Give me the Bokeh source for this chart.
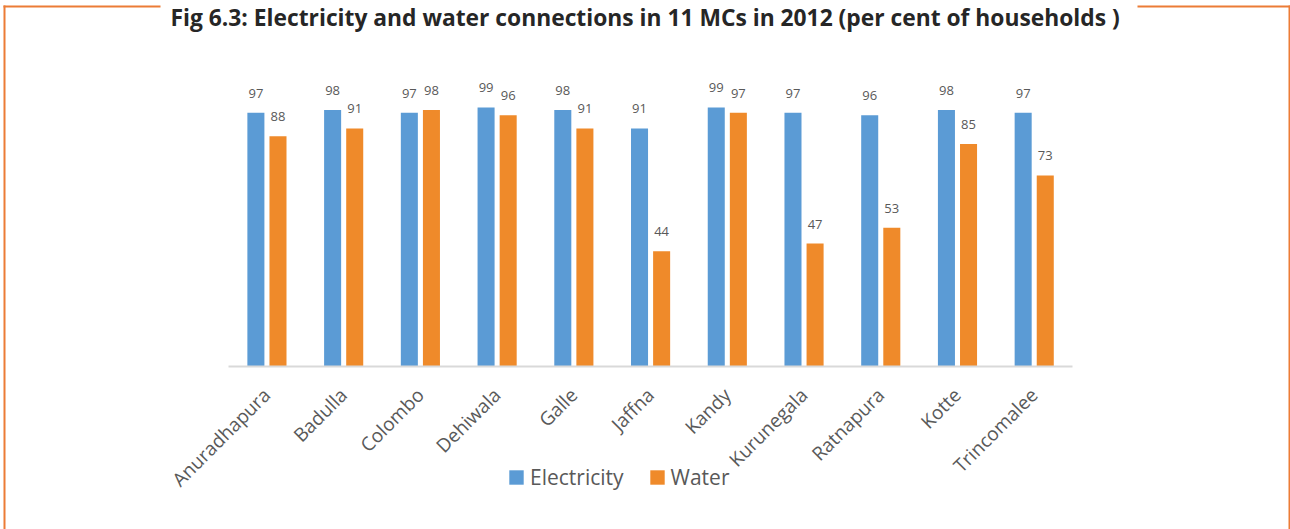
import math
from bokeh.plotting import figure
from bokeh.models import (Range1d, ColumnDataSource, LabelSet, Label, LinearAxis,
                          FixedTicker, BoxAnnotation, Legend, LegendItem)
from bokeh.transform import dodge
from bokeh.core.properties import value
from bokeh.embed import file_html
from bokeh.resources import INLINE

# ---- data ----
cities = ["Anuradhapura", "Badulla", "Colombo", "Dehiwala", "Galle", "Jaffna",
          "Kandy", "Kurunegala", "Ratnapura", "Kotte", "Trincomalee"]
electricity = [97, 98, 97, 99, 98, 91, 99, 97, 96, 98, 97]
water = [88, 91, 98, 96, 91, 44, 97, 47, 53, 85, 73]
series_names = ["Electricity", "Water"]
title_text = "Fig 6.3: Electricity and water connections in 11 MCs in 2012 (per cent of households )"

BLUE = "#5B9BD5"
ORANGE = "#EF8A2A"
FRAME_ORANGE = "#EC7C36"
GREY = "#595959"

W, H = 1290, 529
# plot-area geometry (pixels)
AX_LEFT, AX_RIGHT, AX_BASE = 228, 1072, 366
PX_PER_UNIT_Y = 314 / 120.0
n = len(cities)
px_per_cat = (AX_RIGHT - AX_LEFT) / n
x0 = AX_LEFT + px_per_cat / 2  # pixel of first category centre

pos = list(range(n))
src = ColumnDataSource(dict(
    pos=pos,
    electricity=electricity,
    water=water,
    e_lbl=[str(v) for v in electricity],
    w_lbl=[str(v) for v in water],
))

p = figure(width=W, height=H,
           x_range=Range1d(-x0 / px_per_cat, (W - x0) / px_per_cat),
           y_range=Range1d(-(H - AX_BASE) / PX_PER_UNIT_Y, AX_BASE / PX_PER_UNIT_Y),
           output_backend="svg", toolbar_location=None,
           x_axis_location=None, y_axis_location=None,
           min_border=0, min_border_left=0, min_border_right=0,
           min_border_top=0, min_border_bottom=0)
p.xgrid.grid_line_color = None
p.ygrid.grid_line_color = None
p.outline_line_color = None
p.background_fill_color = "white"
p.border_fill_color = "white"

r1 = p.vbar(x=dodge("pos", -0.143), top="electricity", width=0.222,
            source=src, fill_color=BLUE, line_color=None)
r2 = p.vbar(x=dodge("pos", 0.145), top="water", width=0.222,
            source=src, fill_color=ORANGE, line_color=None)

for xoff, field, lbl in [(-0.143, "electricity", "e_lbl"), (0.145, "water", "w_lbl")]:
    ls = LabelSet(x=dodge("pos", xoff), y=field, text=lbl, source=src,
                  text_align="center", text_baseline="alphabetic", y_offset=15,
                  text_font=value("Open Sans"), text_font_size=value("13px"),
                  text_color=GREY)
    p.add_layout(ls)

ax = LinearAxis(ticker=FixedTicker(ticks=pos),
                major_label_overrides={i: c for i, c in zip(pos, cities)},
                fixed_location=0, bounds=(-0.5, n - 0.5))
ax.axis_line_color = "#D9D9D9"
ax.axis_line_width = 2
ax.major_tick_line_color = None
ax.minor_tick_line_color = None
ax.major_tick_out = 0
ax.major_tick_in = 0
ax.minor_tick_out = 0
ax.major_label_orientation = math.pi / 4
ax.major_label_text_font = "Open Sans"
ax.major_label_text_font_size = "19px"
ax.major_label_text_color = GREY
ax.major_label_standoff = 25
p.add_layout(ax, "below")

legend = Legend(items=[LegendItem(label=series_names[0], renderers=[r1]),
                       LegendItem(label=series_names[1], renderers=[r2])],
                location=(507, 38), orientation="horizontal",
                glyph_width=18, glyph_height=18, label_standoff=5, spacing=24,
                padding=0, margin=0, border_line_color=None, background_fill_alpha=0,
                label_text_font="Open Sans", label_text_font_size="21px",
                label_text_color=GREY)
p.add_layout(legend)

# outer orange box (screen units, measured from the bottom-left corner)
def box(l, r, t, b):
    return BoxAnnotation(left=l, right=r, top=t, bottom=b,
                         left_units="screen", right_units="screen",
                         top_units="screen", bottom_units="screen",
                         fill_color=FRAME_ORANGE, fill_alpha=1, line_color=None)

p.add_layout(box(3, 5, H - 5, 0))
p.add_layout(box(W - 2, W, H - 5, 0))
p.add_layout(box(3, 160, H - 5, H - 7))
p.add_layout(box(1137, W, H - 5, H - 7))

title = Label(x=170, y=H - 17, x_units="screen", y_units="screen", text=title_text,
              text_font="Open Sans", text_font_style="bold", text_font_size="22.8px",
              text_color="#262626", text_baseline="alphabetic")
p.add_layout(title)

open("out.html", "w").write(file_html(p, INLINE))
